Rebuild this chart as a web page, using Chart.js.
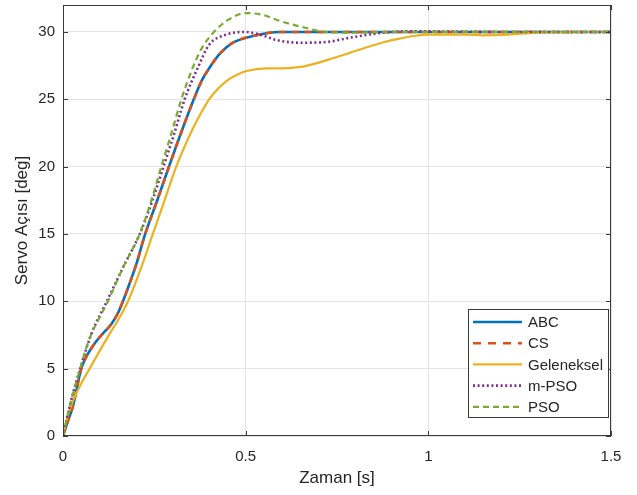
<!DOCTYPE html>
<html>
<head>
<meta charset="utf-8">
<script src="https://cdn.jsdelivr.net/npm/chart.js@4.4.0/dist/chart.umd.min.js"></script>
<style>
  html, body { margin: 0; padding: 0; background: #ffffff; }
  #wrap { width: 637px; height: 495px; }
</style>
</head>
<body>
<div id="wrap"><canvas id="c" width="637" height="495"></canvas></div>
<script>
// ---- Data ----
const seriesNames = ["ABC", "CS", "Geleneksel", "m-PSO", "PSO"];

const tABC = [0, 0.012, 0.027, 0.05, 0.062, 0.075, 0.09, 0.109, 0.132, 0.15, 0.164, 0.182, 0.2, 0.225, 0.258, 0.29, 0.323, 0.358, 0.38, 0.4, 0.43, 0.465, 0.52, 0.593, 0.7, 0.85, 1.0, 1.2, 1.5];
const vABC = [0, 1.0, 2.2, 5.0, 5.8, 6.4, 7.0, 7.6, 8.3, 9.1, 10.0, 11.3, 12.7, 15.0, 17.5, 20.0, 22.5, 25.0, 26.4, 27.3, 28.4, 29.2, 29.7, 30.0, 30.0, 30.0, 30.0, 30.0, 30.0];

const tCS = [0, 0.012, 0.027, 0.05, 0.062, 0.075, 0.09, 0.109, 0.132, 0.15, 0.164, 0.182, 0.2, 0.225, 0.258, 0.29, 0.323, 0.358, 0.38, 0.4, 0.43, 0.465, 0.52, 0.593, 0.7, 0.85, 1.0, 1.2, 1.5];
const vCS = [0, 1.0, 2.2, 5.0, 5.8, 6.4, 7.0, 7.6, 8.3, 9.1, 10.0, 11.3, 12.7, 15.0, 17.5, 20.0, 22.5, 25.0, 26.4, 27.3, 28.4, 29.2, 29.7, 30.0, 30.0, 30.0, 30.0, 30.0, 30.0];

const tGel = [0, 0.012, 0.027, 0.05, 0.073, 0.1, 0.128, 0.155, 0.178, 0.214, 0.246, 0.278, 0.31, 0.333, 0.355, 0.378, 0.40, 0.425, 0.45, 0.475, 0.502, 0.557, 0.6, 0.65, 0.69, 0.739, 0.78, 0.83, 0.88, 0.921, 0.96, 1.0, 1.1, 1.15, 1.22, 1.3, 1.5];
const vGel = [0, 1.4, 2.6, 3.9, 5.0, 6.3, 7.6, 8.8, 10.0, 12.5, 15.0, 17.5, 20.0, 21.5, 22.8, 24.0, 25.0, 25.8, 26.4, 26.8, 27.1, 27.3, 27.3, 27.4, 27.65, 28.05, 28.4, 28.85, 29.25, 29.5, 29.7, 29.8, 29.8, 29.75, 29.8, 29.95, 30.0];

const tMPSO = [0, 0.02, 0.047, 0.078, 0.12, 0.164, 0.21, 0.245, 0.275, 0.305, 0.333, 0.37, 0.40, 0.447, 0.497, 0.54, 0.584, 0.648, 0.72, 0.785, 0.876, 0.95, 1.05, 1.2, 1.5];
const vMPSO = [0, 2.4, 5.0, 7.6, 10.0, 12.5, 15.0, 17.5, 20.0, 22.5, 25.0, 27.4, 29.05, 29.8, 30.0, 29.8, 29.4, 29.2, 29.25, 29.57, 29.94, 30.05, 30.03, 30.0, 30.0];

const tPSO = [0, 0.02, 0.047, 0.062, 0.078, 0.1, 0.123, 0.164, 0.21, 0.242, 0.269, 0.297, 0.324, 0.356, 0.38, 0.41, 0.452, 0.502, 0.55, 0.584, 0.65, 0.72, 0.8, 0.9, 1.0, 1.2, 1.5];
const vPSO = [0, 2.4, 5.0, 6.4, 7.6, 8.8, 10.0, 12.5, 15.0, 17.5, 20.0, 22.5, 25.0, 27.4, 28.8, 29.9, 30.9, 31.4, 31.25, 30.9, 30.4, 30.0, 29.95, 30.0, 30.0, 30.0, 30.0];

const xTicks = [0, 0.5, 1, 1.5];
const yTicks = [0, 5, 10, 15, 20, 25, 30];
const xTitle = "Zaman [s]";
const yTitle = "Servo Açısı [deg]";

// ---- helpers ----
function pts(ts, vs) { return ts.map((t, i) => ({ x: t, y: vs[i] })); }

const FONT = "'Liberation Sans', Arial, Helvetica, sans-serif";
const TXT = '#262626';

const datasets = [
  { label: seriesNames[0], data: pts(tABC, vABC), borderColor: '#0072BD', borderWidth: 2.6, borderDash: [], order: 5 },
  { label: seriesNames[1], data: pts(tCS, vCS), borderColor: '#D95319', borderWidth: 2.6, borderDash: [7, 6], order: 4 },
  { label: seriesNames[2], data: pts(tGel, vGel), borderColor: '#EDB120', borderWidth: 2.2, borderDash: [], order: 3 },
  { label: seriesNames[3], data: pts(tMPSO, vMPSO), borderColor: '#7E2F8E', borderWidth: 2.6, borderDash: [2, 2.6], order: 2 },
  { label: seriesNames[4], data: pts(tPSO, vPSO), borderColor: '#77AC30', borderWidth: 2.2, borderDash: [6, 4], order: 1 }
].map(d => Object.assign(d, {
  pointRadius: 0, fill: false, cubicInterpolationMode: 'monotone', borderCapStyle: 'butt'
}));

// Box + inward ticks like MATLAB axes
const boxPlugin = {
  id: 'boxPlugin',
  afterDatasetsDraw(chart) {
    const { ctx, chartArea: a, scales } = chart;
    ctx.save();
    ctx.strokeStyle = '#3a3a3a';
    ctx.lineWidth = 1;
    ctx.setLineDash([]);
    ctx.strokeRect(a.left + 0.5, a.top + 0.5, a.right - a.left - 1, a.bottom - a.top - 1);
    const L = 5;
    ctx.beginPath();
    scales.x.ticks.forEach(tk => {
      const x = Math.round(scales.x.getPixelForValue(tk.value)) + 0.5;
      ctx.moveTo(x, a.bottom); ctx.lineTo(x, a.bottom - L);
      ctx.moveTo(x, a.top); ctx.lineTo(x, a.top + L);
    });
    scales.y.ticks.forEach(tk => {
      const y = Math.round(scales.y.getPixelForValue(tk.value)) + 0.5;
      ctx.moveTo(a.left, y); ctx.lineTo(a.left + L, y);
      ctx.moveTo(a.right, y); ctx.lineTo(a.right - L, y);
    });
    ctx.stroke();
    ctx.restore();
  }
};

// Legend drawn inside the axes (south-east)
const legendPlugin = {
  id: 'insideLegend',
  afterDraw(chart) {
    const { ctx, chartArea: a } = chart;
    const dsList = chart.data.datasets;
    const w = 140, rowH = 21.2, h = 108;
    const x0 = a.right - 3 - w, y0 = a.bottom - 19 - h;
    ctx.save();
    ctx.fillStyle = '#ffffff';
    ctx.fillRect(x0, y0, w, h);
    ctx.strokeStyle = '#3a3a3a';
    ctx.lineWidth = 1;
    ctx.setLineDash([]);
    ctx.strokeRect(Math.round(x0) + 0.5, Math.round(y0) + 0.5, w, h);
    ctx.font = '15px ' + FONT;
    ctx.textBaseline = 'middle';
    ctx.textAlign = 'left';
    dsList.forEach((d, i) => {
      const cy = y0 + 13 + i * rowH;
      ctx.beginPath();
      ctx.strokeStyle = d.borderColor;
      ctx.lineWidth = d.borderWidth;
      ctx.lineCap = 'butt';
      ctx.setLineDash(i === 1 ? [8, 7] : d.borderDash);
      ctx.moveTo(x0 + 5, cy);
      ctx.lineTo(x0 + 54, cy);
      ctx.stroke();
      ctx.setLineDash([]);
      ctx.fillStyle = TXT;
      ctx.fillText(d.label, x0 + 60, cy + 1);
    });
    ctx.restore();
  }
};

new Chart(document.getElementById('c'), {
  type: 'line',
  data: { datasets },
  options: {
    responsive: false,
    animation: false,
    devicePixelRatio: 1,
    layout: { padding: { top: 5, right: 26, left: 0, bottom: 0 } },
    plugins: { legend: { display: false }, tooltip: { enabled: false } },
    scales: {
      x: {
        type: 'linear', min: 0, max: 1.5,
        afterBuildTicks: s => { s.ticks = xTicks.map(v => ({ value: v })); },
        afterFit: s => { s.height = 59; s.paddingLeft = 0; s.paddingRight = 0; },
        ticks: {
          color: TXT, font: { family: FONT, size: 15 }, padding: 12, maxRotation: 0,
          callback: v => String(v)
        },
        grid: { color: '#e4e4e4', lineWidth: 1, drawTicks: false },
        border: { display: false },
        title: { display: true, text: xTitle, color: TXT, font: { family: FONT, size: 17 }, padding: { top: 0, bottom: 6 } }
      },
      y: {
        type: 'linear', min: 0, max: 32,
        afterBuildTicks: s => { s.ticks = yTicks.map(v => ({ value: v })); },
        afterFit: s => { s.width = 63; s.paddingTop = 0; s.paddingBottom = 0; },
        ticks: {
          color: TXT, font: { family: FONT, size: 15 }, padding: 8,
          callback: v => String(v)
        },
        grid: { color: '#e4e4e4', lineWidth: 1, drawTicks: false },
        border: { display: false },
        title: { display: true, text: yTitle, color: TXT, font: { family: FONT, size: 17 }, padding: { top: 12, bottom: 0 } }
      }
    }
  },
  plugins: [boxPlugin, legendPlugin]
});
</script>
</body>
</html>
